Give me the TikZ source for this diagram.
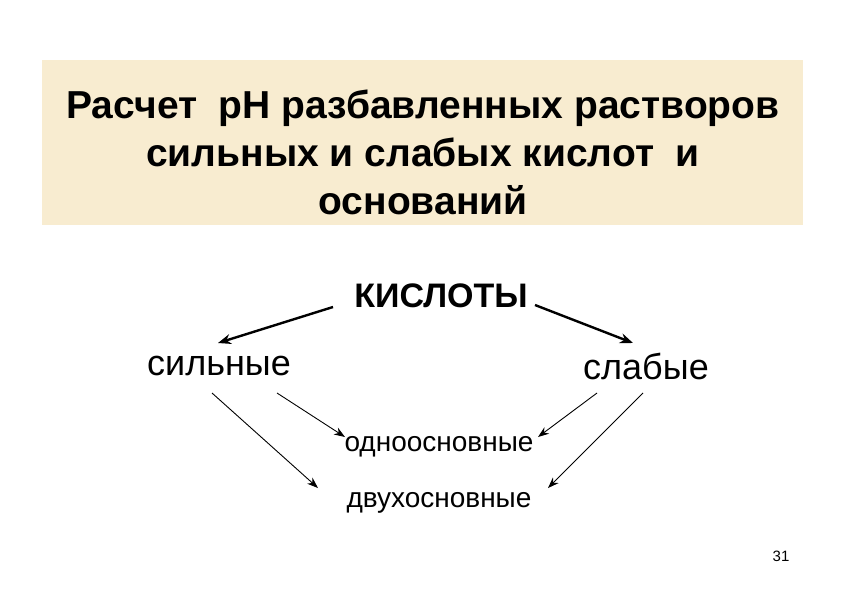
\documentclass[tikz,border=0pt]{standalone}
\usepackage{fontspec}
\setmainfont{Liberation Sans}
\usetikzlibrary{arrows.meta}
\begin{document}
\begin{tikzpicture}[x=1pt,y=-1pt,
  arr/.style={-{Stealth[length=11pt,width=8pt]},line width=0.9pt},
  tarr/.style={-{Stealth[length=13pt,width=10pt]},line width=2.4pt}]
\useasboundingbox[fill=white] (0,0) rectangle (842,595);
\fill[fill={rgb,255:red,248;green,236;blue,208}] (42,60) rectangle (803,225);
\node[align=center,font=\fontsize{39}{48}\selectfont\bfseries] (title) at (423,152)
 {Расчет \ pH разбавленных растворов\\сильных и слабых кислот \ и\\оснований};
\node[font=\fontsize{34}{40}\selectfont\bfseries] (acid) at (441,296) {КИСЛОТЫ};
\node[font=\fontsize{36}{42}\selectfont] (strong) at (219,366) {сильные};
\node[font=\fontsize{36}{42}\selectfont] (weak) at (646,366) {слабые};
\node[font=\fontsize{28}{32}\selectfont] (mono) at (439,447) {одноосновные};
\node[font=\fontsize{28}{32}\selectfont] (di) at (439,503) {двухосновные};
\node[font=\fontsize{15}{18}\selectfont] (num) at (781,556) {31};
\coordinate (a1) at (333,307); \coordinate (s1) at (218,343);
\coordinate (a2) at (535,305); \coordinate (w1) at (633,343);
\coordinate (s2) at (212,393); \coordinate (s3) at (277,393);
\coordinate (w2) at (597,393); \coordinate (w3) at (643,393);
\coordinate (m1) at (345,437); \coordinate (m2) at (538,437);
\coordinate (d1) at (318,488); \coordinate (d2) at (548,488);
\draw[tarr] (a1) -- (s1);
\draw[tarr] (a2) -- (w1);
\draw[arr] (s2) -- (d1);
\draw[arr] (s3) -- (m1);
\draw[arr] (w2) -- (m2);
\draw[arr] (w3) -- (d2);
\end{tikzpicture}
\end{document}
